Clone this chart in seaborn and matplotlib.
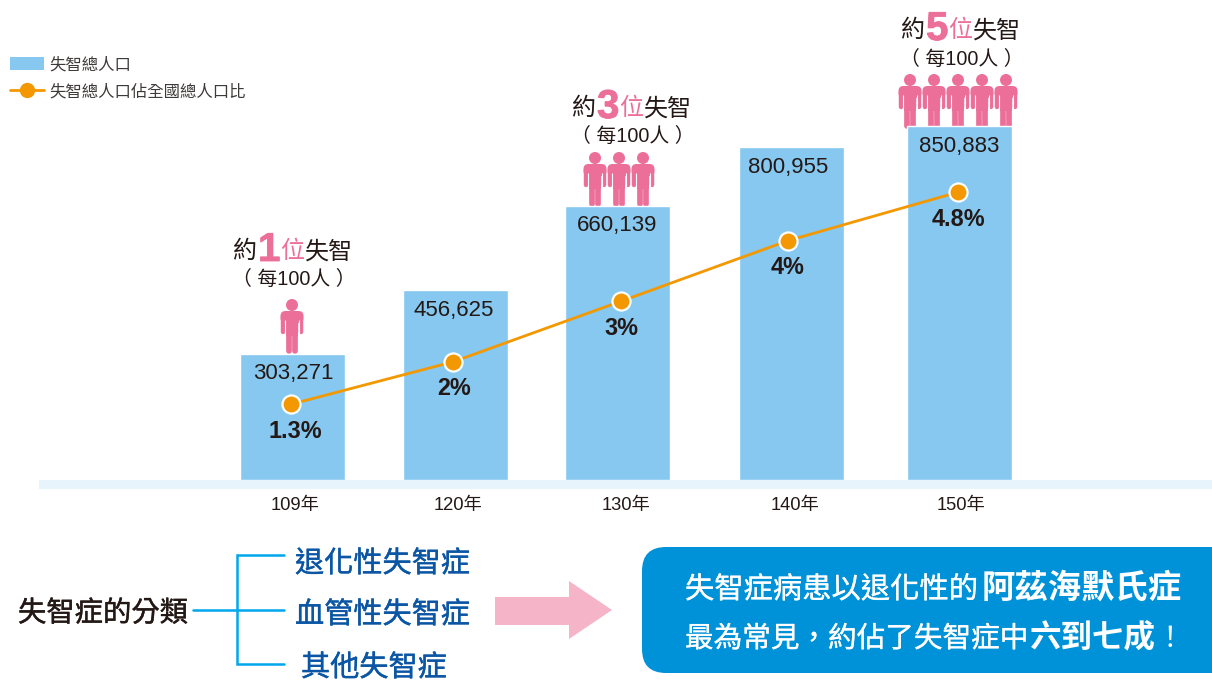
import matplotlib
matplotlib.use("Agg")
import matplotlib.pyplot as plt
import matplotlib.patheffects as pe
from matplotlib.lines import Line2D
from matplotlib.patches import Patch, Rectangle, FancyBboxPatch, Polygon, Circle
import pandas as pd
import seaborn as sns

# ---- data ----
years = ["109年", "120年", "130年", "140年", "150年"]
population = [303271, 456625, 660139, 800955, 850883]
share_pct = [1.3, 2, 3, 4, 4.8]
share_labels = ["1.3%", "2%", "3%", "4%", "4.8%"]
legend_labels = ["失智總人口", "失智總人口佔全國總人口比"]
subtypes = ["退化性失智症", "血管性失智症", "其他失智症"]

# ---- layout (pixels of the 1212x682 canvas) ----
W, H = 1212, 682
bar_slots = [292.5, 455.5, 617.5, 791.5, 959.5]
line_slots = [291, 453, 621, 788, 958]
tick_slots = [295, 458, 626, 795, 961]
label_slots = [293, 453.5, 617.5, 788, 959.5]
pct_slots = [295, 454, 621, 788, 958]
BASE = 480

BLUE, ORANGE, PINK = "#86C8EF", "#F39800", "#EC6F9A"
INK, NAVY, CYAN = "#231815", "#0B56A4", "#00A7EA"

sns.set_theme(style="white")
FONT = ["Liberation Sans", "Noto Sans CJK TC", "DejaVu Sans"]
plt.rcParams["font.family"] = FONT

fig = plt.figure(figsize=(W / 100, H / 100), dpi=100, facecolor="white")

# pixel overlay for the annotation graphics
pix = fig.add_axes([0, 0, 1, 1], zorder=1)
pix.set_xlim(0, W)
pix.set_ylim(H, 0)
pix.axis("off")

# main axes: x in canvas pixels, y in people
ax = fig.add_axes([39 / W, (H - BASE) / H, (W - 39) / W, BASE / H], zorder=2)
ax.patch.set_alpha(0)
df = pd.DataFrame({"slot": bar_slots, "population": population})
sns.barplot(data=df, x="slot", y="population", native_scale=True,
            width=105.5 / 162, color=BLUE, saturation=1, ax=ax)
ax.set_xlim(39, W)
ax.set_ylim(0, BASE / 0.4155 * 1000)
ax.set_xlabel("")
ax.set_ylabel("")
ax.set_yticks([])
ax.set_xticks(tick_slots)
ax.set_xticklabels(years, fontsize=13.2, color=INK)
ax.tick_params(axis="x", length=0, pad=12.5)
sns.despine(ax=ax, left=True, bottom=True)

for xp, v in zip(label_slots, population):
    ax.annotate(f"{v:,}", (xp, v), xytext=(0, -20), textcoords="offset pixels",
                ha="center", va="center", fontsize=16, color=INK)

# share line on a twin axis
ax2 = ax.twinx()
ax2.patch.set_alpha(0)
sns.lineplot(x=line_slots, y=share_pct, ax=ax2, color=ORANGE, linewidth=2.0,
             marker="o", markersize=13, markerfacecolor=ORANGE,
             markeredgecolor="white", markeredgewidth=1.6, errorbar=None)
ax2.set_xlim(39, W)
ax2.set_ylim(0.05, BASE / 60.6 + 0.05)
ax2.set_yticks([])
ax2.set_ylabel("")
sns.despine(ax=ax2, left=True, bottom=True, right=True)
for xp, v, t in zip(pct_slots, share_pct, share_labels):
    ax2.annotate(t, (xp, v), xytext=(0, -27), textcoords="offset pixels",
                 ha="center", va="center", fontsize=16.8,
                 fontweight="bold", color=INK)

# baseline strip
pix.add_patch(Rectangle((39, BASE), W - 39, 9, fc="#E8F4FB", ec="none"))

# legend
handles = [
    Patch(fc=BLUE, ec="none"),
    Line2D([], [], color=ORANGE, lw=2.0, marker="o", markersize=10,
           markerfacecolor=ORANGE, markeredgecolor=ORANGE),
]
leg = ax2.legend(handles, legend_labels, loc="upper left",
                 bbox_to_anchor=(10 / W, 1 - 57 / H),
                 bbox_transform=fig.transFigure, frameon=False, borderpad=0,
                 borderaxespad=0, fontsize=11.8, handlelength=2.06,
                 handleheight=0.85, handletextpad=0.36, labelspacing=0.68)
for t in leg.get_texts():
    t.set_color("#3E3A39")


def person(cx, bottom):
    top = bottom - 54
    sh = top + 12
    pix.add_patch(Circle((cx, top + 6), 6, fc=PINK, ec="none"))
    pix.add_patch(FancyBboxPatch((cx - 11.5, sh), 23, 12, boxstyle="round,pad=0,rounding_size=5",
                                 fc=PINK, ec="none"))
    pix.add_patch(Rectangle((cx - 6.3, sh + 2), 12.6, bottom - 19 - sh, fc=PINK, ec="none"))
    for side in (-1, 1):
        pix.plot([cx + side * 9.3, cx + side * 9.3], [sh + 6, bottom - 21],
                 color=PINK, lw=3.2, solid_capstyle="round")
        pix.plot([cx + side * 3.4, cx + side * 3.4], [bottom - 22, bottom - 2.5],
                 color=PINK, lw=4.1, solid_capstyle="round")
        pix.plot([cx + side * 6.9, cx + side * 6.9], [sh + 9, bottom - 19],
                 color="white", lw=0.8, solid_capstyle="butt")


def headline(x0, y, digit):
    pix.text(x0, y + 3, "約", fontsize=17.3, color=INK, ha="left", va="center")
    pix.text(x0 + 26, y + 1, digit, fontsize=29, fontweight="bold", color=PINK, ha="left", va="center",
             path_effects=[pe.withStroke(linewidth=0.6, foreground=PINK)])
    pix.text(x0 + 48, y + 3, "位", fontsize=17.3, color=PINK, ha="left", va="center")
    pix.text(x0 + 73, y + 3, "失智", fontsize=17.3, color=INK, ha="left", va="center")


groups = [("1", 232, 249, 294, 279, [292], 353),
          ("3", 571, 106, 633, 136, [595, 619, 643], 206),
          ("5", 900, 28, 962, 59, [910, 934, 958, 982, 1006], 128)]
for digit, x0, y1, xc, y2, centers, bottom in groups:
    headline(x0, y1, digit)
    pix.text(xc, y2, "（ 每100人 ）", fontsize=14.3, color=INK, ha="center", va="center")
    for c in centers:
        person(c, bottom)


def heavy(color, width=0.3):
    return [pe.withStroke(linewidth=width, foreground=color)]


# classification tree
pix.text(18, 614, "失智症的分類", fontsize=20.4, color=INK, ha="left", va="center",
         path_effects=heavy(INK))
pix.plot([284, 237, 237, 284], [555, 555, 664, 664], color=CYAN, lw=1.8, solid_joinstyle="miter")
pix.plot([193, 284], [610, 610], color=CYAN, lw=1.8)
for t, x, y in zip(subtypes, [295, 295, 301], [564, 615, 668]):
    pix.text(x, y, t, fontsize=21, color=NAVY, ha="left", va="center", path_effects=heavy(NAVY))

# arrow
pix.add_patch(Polygon([(495, 597), (569, 597), (569, 581), (612, 610),
                       (569, 639), (569, 625), (495, 625)], fc="#F5B4C8", ec="none"))

# call-out box
pix.add_patch(FancyBboxPatch((642, 547), 600, 126, boxstyle="round,pad=0,rounding_size=24",
                             fc="#0092D9", ec="none", clip_on=True))
pix.text(685, 590, "失智症病患以退化性的", fontsize=21.1, color="white", ha="left", va="center",
         path_effects=heavy("white", 0.2))
pix.text(982, 589, "阿茲海默氏症", fontsize=24, fontweight="bold", color="white", ha="left", va="center")
pix.text(685, 639, "最為常見，約佔了失智症中", fontsize=20.6, color="white", ha="left", va="center",
         path_effects=heavy("white", 0.2))
pix.text(1030, 638, "六到七成", fontsize=22.7, fontweight="bold", color="white", ha="left", va="center")
pix.text(1156, 639, "！", fontsize=20.6, color="white", ha="left", va="center")

fig.savefig("out.png", dpi=100, facecolor="white")
